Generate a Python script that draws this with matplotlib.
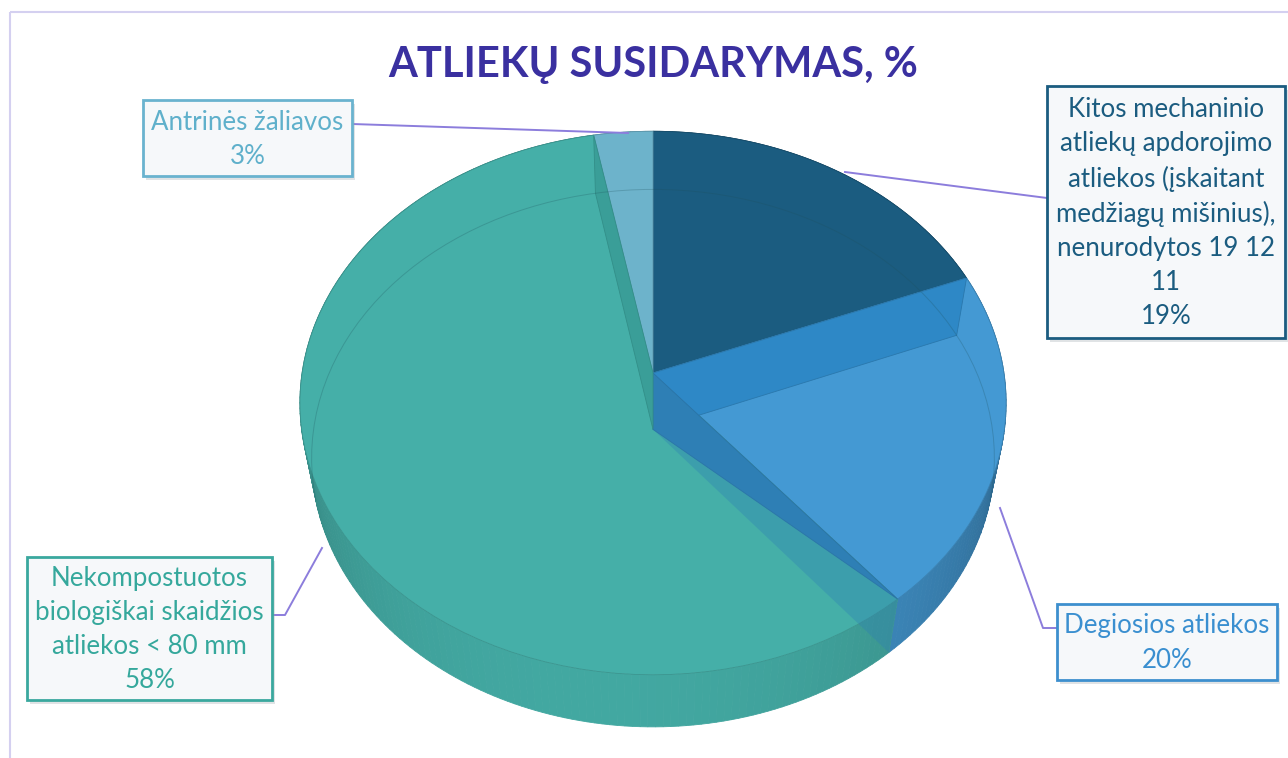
import numpy as np
import matplotlib
matplotlib.use("Agg")
import matplotlib.pyplot as plt
from matplotlib.patches import Polygon, Rectangle
from matplotlib.colors import to_rgb

# data (clockwise from 12 o'clock)
labels = ["Kitos mechaninio\natliekų apdorojimo\natliekos (įskaitant\nmedžiagų mišinius),\nnenurodytos 19 12\n11",
          "Degiosios atliekos",
          "Nekompostuotos\nbiologiškai skaidžios\natliekos < 80 mm",
          "Antrinės žaliavos"]
shares = [19, 20, 58, 3]
top_colors = ["#1b5c80", "#4499d3", "#45afa8", "#6db3cb"]
text_colors = ["#1b5c80", "#3a8fd0", "#35a89c", "#5fb0cb"]
title = "ATLIEKŲ SUSIDARYMAS, %"

FONT = ["Lato", "DejaVu Sans"]

# simple perspective camera for the 3-D pie (pixel space)
CX, CY = 653, 373
FOC, DIST, ELEV, THICK = 2046.0, 5.83, np.radians(49.9), 0.258
se, ce = np.sin(ELEV), np.cos(ELEV)


def proj(X, Y, Z):
    depth = DIST + Y * ce - Z * se
    v = Y * se + Z * ce
    return CX + FOC * X / depth, CY - FOC * v / depth


def shade(c, k):
    r, g, b = to_rgb(c)
    return (r * k, g * k, b * k)


def rim(a0, a1, z, n=80):
    t = np.linspace(a0, a1, n)
    return np.column_stack(proj(np.sin(t), np.cos(t), z))


fig = plt.figure(figsize=(12.88, 7.58), dpi=100)
ax = fig.add_axes([0, 0, 1, 1])
ax.set_xlim(0, 1288)
ax.set_ylim(758, 0)
ax.axis("off")

# chart border
ax.add_patch(Rectangle((10, 12), 1400, 900, fill=False, ec="#d4d0f0", lw=1.5))

ends = np.cumsum(shares) / np.sum(shares) * 2 * np.pi
starts = np.concatenate([[0], ends[:-1]])

# outer sides, back to front
segs = []
for i, (a0, a1) in enumerate(zip(starts, ends)):
    t = np.linspace(a0, a1, max(4, int((a1 - a0) / 0.02)))
    for ta, tb in zip(t[:-1], t[1:]):
        tm = 0.5 * (ta + tb)
        k = 0.68 + 0.28 * max(0.0, -np.cos(tm - np.radians(10)))
        pts = [proj(np.sin(ta), np.cos(ta), 0), proj(np.sin(tb), np.cos(tb), 0),
               proj(np.sin(tb), np.cos(tb), -THICK), proj(np.sin(ta), np.cos(ta), -THICK)]
        segs.append((np.cos(tm), pts, shade(top_colors[i], k)))
segs.sort(key=lambda s: -s[0])
for _, pts, col in segs:
    ax.add_patch(Polygon(pts, closed=True, fc=col, ec=col, lw=0.6))

# bottom rim seen through the surface
bk = rim(np.radians(-105), np.radians(105), -THICK)
ax.plot(bk[:, 0], bk[:, 1], color="#1d4f5a", lw=0.7, alpha=0.25)

# top faces
for i, (a0, a1) in enumerate(zip(starts, ends)):
    pts = np.vstack([[proj(0, 0, 0)], rim(a0, a1, 0)])
    ax.add_patch(Polygon(pts, closed=True, fc=top_colors[i], ec=shade(top_colors[i], 0.85), lw=0.6))

# inner walls of the transparent slices
inner_t, inner_b = proj(0, 0, 0), proj(0, 0, -THICK)


def wall(a):
    return [inner_t, proj(np.sin(a), np.cos(a), 0), proj(np.sin(a), np.cos(a), -THICK), inner_b]


w = wall(ends[0])
ax.add_patch(Polygon(w, closed=True, fc="#2e88c6", ec="#2a78ad", lw=0.6))
w = wall(ends[1])
ax.add_patch(Polygon([w[0], w[1], w[3]], closed=True, fc="#2e7fb5", ec="#2a74a6", lw=0.6))
ax.add_patch(Polygon([w[1], w[2], w[3]], closed=True, fc="#2e7fb5", ec="none", alpha=0.35))
w = wall(ends[2])
ax.add_patch(Polygon(w, closed=True, fc="#3a9e98", ec="#338f89", lw=0.6))

# title
ax.text(653, 65, title, ha="center", va="center", fontsize=30, fontweight="bold",
        color="#3a30a0", family=FONT)

# label boxes: (x0, y0, x1, y1), leader line points
boxes = [(1047, 86, 1285, 338), (1057, 604, 1277, 680), (27, 557, 272, 700), (143, 100, 352, 176)]
leaders = [[(845, 172), (1047, 198)],
           [(1000, 508), (1043, 628), (1057, 628)],
           [(322, 548), (285, 615), (272, 615)],
           [(628, 133), (352, 124)]]
border_cols = ["#1b5c80", "#3d8fce", "#3aa89e", "#6ab3cf"]

for i in range(len(shares)):
    x0, y0, x1, y1 = boxes[i]
    lx, ly = zip(*leaders[i])
    ax.plot(lx, ly, color="#8c7ddc", lw=1.4, zorder=3)
    ax.add_patch(Rectangle((x0 + 3, y0 + 4), x1 - x0, y1 - y0, fc="#9aa4ab", ec="none", alpha=0.3, zorder=4))
    ax.add_patch(Rectangle((x0, y0), x1 - x0, y1 - y0, fc="#f6f8fa", ec=border_cols[i], lw=2, zorder=5))
    ax.text((x0 + x1) / 2, (y0 + y1) / 2 + 1, f"{labels[i]}\n{shares[i]}%", ha="center", va="center",
            fontsize=18.6, color=text_colors[i], family=FONT, linespacing=1.45, zorder=6)

fig.savefig("out.png", dpi=100)
